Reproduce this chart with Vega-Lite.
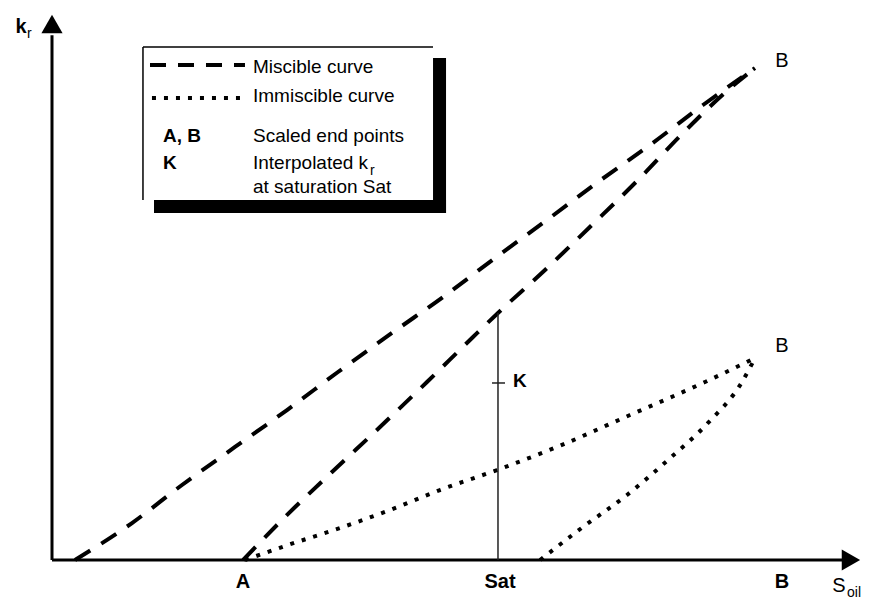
{
  "$schema": "https://vega.github.io/schema/vega-lite/v6.json",
  "autosize": {"type": "fit", "contains": "padding"},
  "width": 870,
  "height": 601,
  "padding": 0,
  "background": "white",
  "config": {"view": {"stroke": null}, "axis": {"disable": true}, "text": {"font": "Liberation Sans", "color": "black"}},
  "layer": [
    {
      "data": {"values": [
        {"curve": "m1", "kind": "Miscible", "x": 0.0327, "y": 0.0},
        {"curve": "m1", "kind": "Miscible", "x": 0.1138, "y": 0.0747},
        {"curve": "m1", "kind": "Miscible", "x": 0.1849, "y": 0.1515},
        {"curve": "m1", "kind": "Miscible", "x": 0.2603, "y": 0.2283},
        {"curve": "m1", "kind": "Miscible", "x": 0.3343, "y": 0.3030},
        {"curve": "m1", "kind": "Miscible", "x": 0.4068, "y": 0.3798},
        {"curve": "m1", "kind": "Miscible", "x": 0.4836, "y": 0.4586},
        {"curve": "m1", "kind": "Miscible", "x": 0.5562, "y": 0.5313},
        {"curve": "m1", "kind": "Miscible", "x": 0.6302, "y": 0.6101},
        {"curve": "m1", "kind": "Miscible", "x": 0.7041, "y": 0.6869},
        {"curve": "m1", "kind": "Miscible", "x": 0.7767, "y": 0.7636},
        {"curve": "m1", "kind": "Miscible", "x": 0.8506, "y": 0.8384},
        {"curve": "m1", "kind": "Miscible", "x": 0.9260, "y": 0.9192},
        {"curve": "m1", "kind": "Miscible", "x": 1.0, "y": 0.9939},
        {"curve": "m2", "kind": "Miscible", "x": 0.2717, "y": 0.0},
        {"curve": "m2", "kind": "Miscible", "x": 0.3314, "y": 0.0869},
        {"curve": "m2", "kind": "Miscible", "x": 0.3983, "y": 0.1778},
        {"curve": "m2", "kind": "Miscible", "x": 0.4666, "y": 0.2687},
        {"curve": "m2", "kind": "Miscible", "x": 0.5334, "y": 0.3596},
        {"curve": "m2", "kind": "Miscible", "x": 0.5989, "y": 0.4505},
        {"curve": "m2", "kind": "Miscible", "x": 0.6344, "y": 0.4990},
        {"curve": "m2", "kind": "Miscible", "x": 0.7013, "y": 0.5859},
        {"curve": "m2", "kind": "Miscible", "x": 0.7681, "y": 0.6768},
        {"curve": "m2", "kind": "Miscible", "x": 0.8336, "y": 0.7677},
        {"curve": "m2", "kind": "Miscible", "x": 0.8976, "y": 0.8626},
        {"curve": "m2", "kind": "Miscible", "x": 0.9616, "y": 0.9495},
        {"curve": "m2", "kind": "Miscible", "x": 1.0, "y": 0.9939},
        {"curve": "i1", "kind": "Immiscible", "x": 0.2745, "y": 0.0},
        {"curve": "i1", "kind": "Immiscible", "x": 0.3357, "y": 0.0303},
        {"curve": "i1", "kind": "Immiscible", "x": 0.4097, "y": 0.0646},
        {"curve": "i1", "kind": "Immiscible", "x": 0.4808, "y": 0.1010},
        {"curve": "i1", "kind": "Immiscible", "x": 0.5519, "y": 0.1414},
        {"curve": "i1", "kind": "Immiscible", "x": 0.6330, "y": 0.1818},
        {"curve": "i1", "kind": "Immiscible", "x": 0.7183, "y": 0.2283},
        {"curve": "i1", "kind": "Immiscible", "x": 0.8222, "y": 0.2929},
        {"curve": "i1", "kind": "Immiscible", "x": 0.9289, "y": 0.3596},
        {"curve": "i1", "kind": "Immiscible", "x": 1.0, "y": 0.4081},
        {"curve": "i2", "kind": "Immiscible", "x": 0.6942, "y": 0.0},
        {"curve": "i2", "kind": "Immiscible", "x": 0.7553, "y": 0.0667},
        {"curve": "i2", "kind": "Immiscible", "x": 0.8179, "y": 0.1313},
        {"curve": "i2", "kind": "Immiscible", "x": 0.8762, "y": 0.2020},
        {"curve": "i2", "kind": "Immiscible", "x": 0.9331, "y": 0.2768},
        {"curve": "i2", "kind": "Immiscible", "x": 0.9815, "y": 0.3596},
        {"curve": "i2", "kind": "Immiscible", "x": 1.0, "y": 0.4081}
      ]},
      "mark": {"type": "line", "strokeWidth": 4, "color": "black", "interpolate": "monotone", "strokeCap": "butt"},
      "encoding": {
        "x": {"field": "x", "type": "quantitative", "scale": {"domain": [-0.07397, 1.16358], "nice": false, "zero": false}},
        "y": {"field": "y", "type": "quantitative", "scale": {"domain": [-0.08283, 1.13131], "nice": false, "zero": false}},
        "detail": {"field": "curve"},
        "strokeDash": {"field": "kind", "type": "nominal", "scale": {"domain": ["Miscible", "Immiscible"], "range": [[18, 13], [4, 8]]}, "legend": null}
      }
    },
    {
      "data": {"values": [{}]},
      "mark": {"type": "rule", "strokeWidth": 3, "color": "black"},
      "encoding": {"x": {"datum": 0}, "x2": {"datum": 1.13}, "y": {"datum": 0}}
    },
    {
      "data": {"values": [{}]},
      "mark": {"type": "rule", "strokeWidth": 3, "color": "black"},
      "encoding": {"x": {"datum": 0}, "y": {"datum": 0}, "y2": {"datum": 1.06}}
    },
    {
      "data": {"values": [{}]},
      "mark": {"type": "point", "shape": "triangle-right", "filled": true, "size": 450, "color": "black", "opacity": 1},
      "encoding": {"x": {"datum": 1.1365}, "y": {"datum": 0}}
    },
    {
      "data": {"values": [{}]},
      "mark": {"type": "point", "shape": "triangle-up", "filled": true, "size": 450, "color": "black", "opacity": 1},
      "encoding": {"x": {"datum": 0}, "y": {"datum": 1.0828}}
    },
    {
      "data": {"values": [{}]},
      "mark": {"type": "rule", "strokeWidth": 1.5, "color": "#222222"},
      "encoding": {"x": {"datum": 0.6344}, "y": {"datum": 0}, "y2": {"datum": 0.499}}
    },
    {
      "data": {"values": [{}]},
      "mark": {"type": "rule", "strokeWidth": 1.5, "color": "#222222"},
      "encoding": {"x": {"datum": 0.6259}, "x2": {"datum": 0.6444}, "y": {"datum": 0.3576}}
    },
    {
      "data": {"values": [{}]},
      "mark": {"type": "rule", "strokeWidth": 1.5, "color": "black"},
      "encoding": {"x": {"datum": 0.1294}, "x2": {"datum": 0.542}, "y": {"datum": 1.0364}}
    },
    {
      "data": {"values": [{}]},
      "mark": {"type": "rule", "strokeWidth": 1.5, "color": "black"},
      "encoding": {"x": {"datum": 0.1294}, "y": {"datum": 0.7273}, "y2": {"datum": 1.0364}}
    },
    {
      "data": {"values": [{}]},
      "mark": {"type": "rect", "color": "black"},
      "encoding": {"x": {"datum": 0.542}, "x2": {"datum": 0.5605}, "y": {"datum": 0.701}, "y2": {"datum": 1.0141}}
    },
    {
      "data": {"values": [{}]},
      "mark": {"type": "rect", "color": "black"},
      "encoding": {"x": {"datum": 0.1451}, "x2": {"datum": 0.5605}, "y": {"datum": 0.701}, "y2": {"datum": 0.7273}}
    },
    {
      "data": {"values": [{}]},
      "mark": {"type": "rule", "strokeWidth": 4, "color": "black", "strokeDash": [16, 12], "strokeCap": "butt"},
      "encoding": {"x": {"datum": 0.1394}, "x2": {"datum": 0.2745}, "y": {"datum": 1.0}}
    },
    {
      "data": {"values": [{}]},
      "mark": {"type": "rule", "strokeWidth": 4, "color": "black", "strokeDash": [4, 8], "strokeCap": "butt"},
      "encoding": {"x": {"datum": 0.1422}, "x2": {"datum": 0.2745}, "y": {"datum": 0.9333}}
    },
    {
      "data": {"values": [
        {"label": "Miscible curve", "x": 0.2859, "y": 0.9838},
        {"label": "Immiscible curve", "x": 0.2859, "y": 0.9253},
        {"label": "Scaled end points", "x": 0.2859, "y": 0.8444},
        {"label": "Interpolated k", "x": 0.2859, "y": 0.7899},
        {"label": "at saturation Sat", "x": 0.2859, "y": 0.7414}
      ]},
      "mark": {"type": "text", "align": "left", "baseline": "alphabetic", "fontSize": 19},
      "encoding": {"x": {"field": "x", "type": "quantitative"}, "y": {"field": "y", "type": "quantitative"}, "text": {"field": "label"}}
    },
    {
      "data": {"values": [
        {"label": "A, B", "x": 0.1579, "y": 0.8444},
        {"label": "K", "x": 0.1579, "y": 0.7899},
        {"label": "K", "x": 0.6558, "y": 0.3495}
      ]},
      "mark": {"type": "text", "align": "left", "baseline": "alphabetic", "fontSize": 19, "fontWeight": "bold"},
      "encoding": {"x": {"field": "x", "type": "quantitative"}, "y": {"field": "y", "type": "quantitative"}, "text": {"field": "label"}}
    },
    {
      "data": {"values": [
        {"label": "A", "x": 0.2717, "y": -0.0566},
        {"label": "Sat", "x": 0.6373, "y": -0.0566},
        {"label": "B", "x": 1.0384, "y": -0.0566}
      ]},
      "mark": {"type": "text", "align": "center", "baseline": "alphabetic", "fontSize": 20, "fontWeight": "bold"},
      "encoding": {"x": {"field": "x", "type": "quantitative"}, "y": {"field": "y", "type": "quantitative"}, "text": {"field": "label"}}
    },
    {
      "data": {"values": [
        {"label": "B", "x": 1.0384, "y": 0.996},
        {"label": "B", "x": 1.0384, "y": 0.4202},
        {"label": "S", "x": 1.1195, "y": -0.0646}
      ]},
      "mark": {"type": "text", "align": "center", "baseline": "alphabetic", "fontSize": 20},
      "encoding": {"x": {"field": "x", "type": "quantitative"}, "y": {"field": "y", "type": "quantitative"}, "text": {"field": "label"}}
    },
    {
      "data": {"values": [
        {"label": "k", "x": -0.0441, "y": 1.0646}
      ]},
      "mark": {"type": "text", "align": "center", "baseline": "alphabetic", "fontSize": 20, "fontWeight": "bold"},
      "encoding": {"x": {"field": "x", "type": "quantitative"}, "y": {"field": "y", "type": "quantitative"}, "text": {"field": "label"}}
    },
    {
      "data": {"values": [
        {"label": "oil", "x": 1.1309, "y": -0.0747},
        {"label": "r", "x": -0.0356, "y": 1.0545},
        {"label": "r", "x": 0.4523, "y": 0.7778}
      ]},
      "mark": {"type": "text", "align": "left", "baseline": "alphabetic", "fontSize": 14},
      "encoding": {"x": {"field": "x", "type": "quantitative"}, "y": {"field": "y", "type": "quantitative"}, "text": {"field": "label"}}
    }
  ]
}
